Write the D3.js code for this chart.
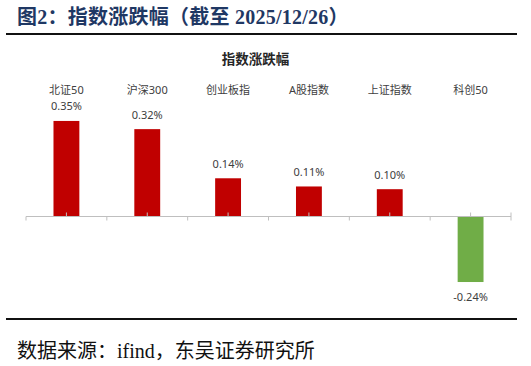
<!DOCTYPE html>
<meta charset="utf-8">
<style>
  body { margin: 0; background: #fff; }
  svg { display: block; }
</style>
<svg id="chart" width="531" height="366"></svg>
<script src="https://cdn.jsdelivr.net/npm/d3@7"></script>
<script>
// index names and daily change (%)
var categories = ["北证50", "沪深300", "创业板指", "A股指数", "上证指数", "科创50"];
var changes = [0.35, 0.32, 0.14, 0.11, 0.10, -0.24];

var figTitle = "图2：指数涨跌幅（截至 2025/12/26）";
var chartTitle = "指数涨跌幅";
var sourceText = "数据来源：ifind，东吴证券研究所";

var svg = d3.select("#chart");
var width = +svg.attr("width"),
    height = +svg.attr("height");

var serif = "'Liberation Serif', 'Noto Sans CJK SC', serif";
var sans = "'Noto Sans', 'Noto Sans CJK SC', sans-serif";

// plain hyphen for negatives, like the source
var fmt = d3.formatLocale({decimal: ".", thousands: ",", grouping: [3], currency: ["", ""], minus: "-"}).format(".2f");

svg.append("rect").attr("width", width).attr("height", height).attr("fill", "#fff");

// header
svg.append("text")
    .attr("x", 17).attr("y", 17)
    .attr("dominant-baseline", "central")
    .attr("font-family", serif).attr("font-weight", "bold")
    .attr("font-size", 20).attr("letter-spacing", 0.25).attr("fill", "#1f3864")
    .text(figTitle);

svg.append("line")
    .attr("x1", 6).attr("x2", 517).attr("y1", 34).attr("y2", 34)
    .attr("stroke", "#111").attr("stroke-width", 2);

svg.append("text")
    .attr("x", 255.5).attr("y", 59)
    .attr("text-anchor", "middle").attr("dominant-baseline", "central")
    .attr("font-family", sans).attr("font-weight", "bold")
    .attr("font-size", 13.5).attr("fill", "#262626")
    .text(chartTitle);

// scales
var x = d3.scaleBand()
    .domain(categories)
    .range([26, 511])
    .paddingInner(0.68)
    .paddingOuter(0.34);

var xEdge = d3.scaleBand().domain(categories).range([26, 511]);

var y = d3.scaleLinear()
    .domain([-0.3, 0.4])
    .range([216.5 + 0.3 * 273, 216.5 - 0.4 * 273]);

var data = categories.map(function(c, i) { return {name: c, value: changes[i]}; });

// category names along the top
svg.append("g").selectAll("text")
  .data(data)
  .enter().append("text")
    .attr("x", function(d) { return x(d.name) + x.bandwidth() / 2; })
    .attr("y", 89)
    .attr("text-anchor", "middle").attr("dominant-baseline", "central")
    .attr("font-family", sans).attr("font-size", 11).attr("fill", "#404040")
    .text(function(d) { return d.name; });

// bars
svg.append("g").selectAll("rect")
  .data(data)
  .enter().append("rect")
    .attr("x", function(d) { return x(d.name); })
    .attr("width", x.bandwidth())
    .attr("y", function(d) { return y(Math.max(0, d.value)); })
    .attr("height", function(d) { return Math.abs(y(d.value) - y(0)); })
    .attr("fill", function(d) { return d.value >= 0 ? "#c00000" : "#70ad47"; });

// value labels
svg.append("g").selectAll("text")
  .data(data)
  .enter().append("text")
    .attr("x", function(d) { return x(d.name) + x.bandwidth() / 2; })
    .attr("y", function(d) { return d.value >= 0 ? y(d.value) - 15 : y(d.value) + 14; })
    .attr("text-anchor", "middle").attr("dominant-baseline", "central")
    .attr("font-family", sans).attr("font-size", 11).attr("fill", "#404040")
    .text(function(d) { return fmt(d.value) + "%"; });

// zero axis with ticks
var axis = svg.append("g").attr("stroke", "#bfbfbf").attr("stroke-width", 1);
axis.append("line")
    .attr("x1", 26).attr("x2", 511)
    .attr("y1", y(0)).attr("y2", y(0));

var edges = categories.map(function(c) { return xEdge(c); }).concat([511]);
axis.selectAll(".edge")
  .data(edges)
  .enter().append("line")
    .attr("class", "edge")
    .attr("x1", function(d) { return d; }).attr("x2", function(d) { return d; })
    .attr("y1", function(d, i) { return i === edges.length - 1 ? y(0) - 4 : y(0); })
    .attr("y2", y(0) + 4);

axis.selectAll(".mid")
  .data(categories)
  .enter().append("line")
    .attr("class", "mid")
    .attr("x1", function(d) { return x(d) + x.bandwidth() / 2; })
    .attr("x2", function(d) { return x(d) + x.bandwidth() / 2; })
    .attr("y1", y(0) - 4).attr("y2", y(0));

// footer
svg.append("line")
    .attr("x1", 6).attr("x2", 517).attr("y1", 319).attr("y2", 319)
    .attr("stroke", "#111").attr("stroke-width", 2);

svg.append("text")
    .attr("x", 17).attr("y", 351)
    .attr("dominant-baseline", "central")
    .attr("font-family", serif).attr("font-size", 20).attr("fill", "#111")
    .text(sourceText);
</script>
